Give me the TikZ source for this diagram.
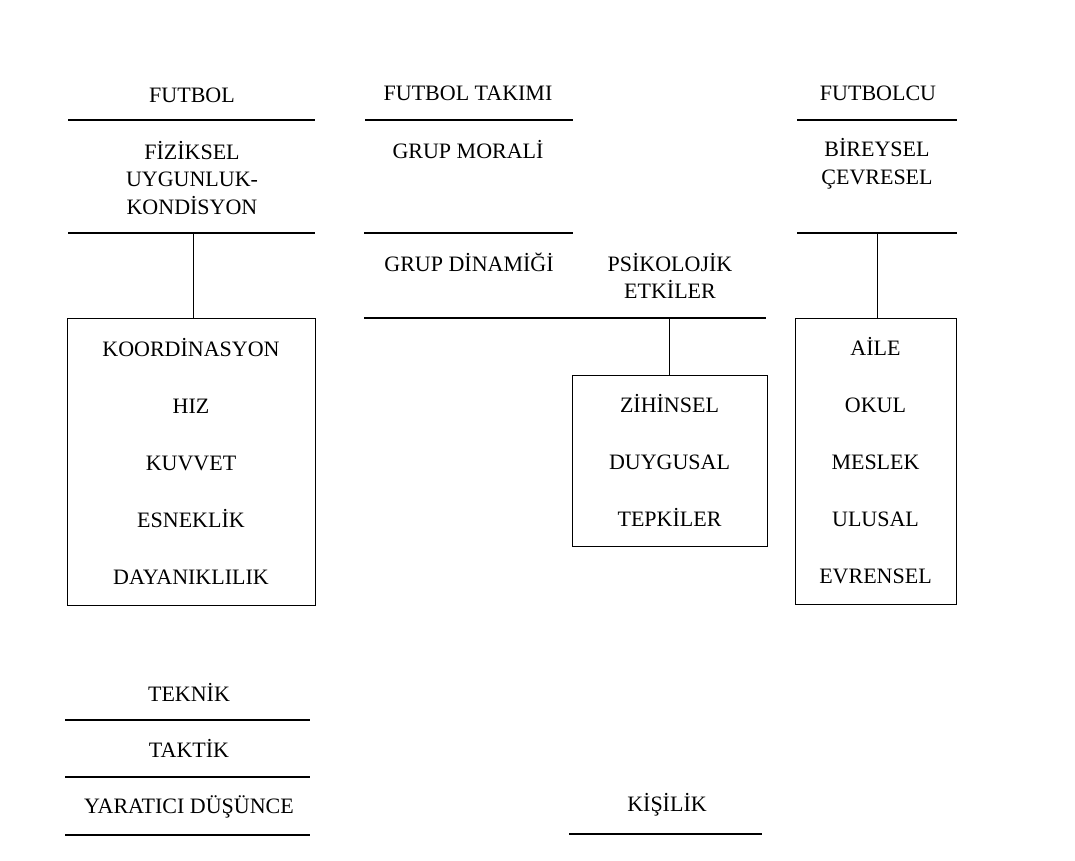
\documentclass[tikz,border=0pt]{standalone}
\usepackage{fontspec}
\setmainfont{Liberation Serif}
\usepackage{tikz}

\begin{document}
\begin{tikzpicture}[x=1pt,y=-1pt,
    lbl/.style={font=\fontsize{22}{27.5}\selectfont,align=center,inner sep=0pt},
    kutu/.style={draw,line width=0.9pt,font=\fontsize{22}{57}\selectfont,align=center,inner sep=0pt},
    cizgi/.style={line width=1.3pt},
    bag/.style={line width=0.9pt}]
\useasboundingbox (0,0) rectangle (1075,860);

% ust basliklar
\node[lbl] (futbol) at (192,95) {FUTBOL};
\node[lbl] (takim) at (468,93) {FUTBOL TAKIMI};
\node[lbl] (futbolcu) at (878,93) {FUTBOLCU};
\draw [cizgi] (68,120) -- (315,120);
\draw [cizgi] (365,120) -- (573,120);
\draw [cizgi] (797,120) -- (957,120);

\node[lbl] (fizik) at (192,178) {FİZİKSEL\\UYGUNLUK-\\KONDİSYON};
\node[lbl] (moral) at (468,150) {GRUP MORALİ};
\node[lbl] (bireysel) at (877,164) {BİREYSEL\\ÇEVRESEL};
\draw [cizgi] (68,233) -- (315,233);
\draw [cizgi] (364,233) -- (573,233);
\draw [cizgi] (797,233) -- (957,233);

\node[lbl] (dinamik) at (469,262) {GRUP DİNAMİĞİ};
\node[lbl] (psiko) at (670,276) {PSİKOLOJİK\\ETKİLER};
\draw [cizgi] (364,318) -- (766,318);

% kutular
\node[kutu,minimum width=248pt,minimum height=287pt] (kond) at (191,461.5)
    {KOORDİNASYON\\HIZ\\KUVVET\\ESNEKLİK\\DAYANIKLILIK};
\node[kutu,minimum width=195pt,minimum height=171pt] (zihin) at (669.5,460.5)
    {ZİHİNSEL\\DUYGUSAL\\TEPKİLER};
\node[kutu,minimum width=161pt,minimum height=286pt] (aile) at (875.5,461)
    {AİLE\\OKUL\\MESLEK\\ULUSAL\\EVRENSEL};

\coordinate (k1) at (193,233);
\coordinate (k2) at (669,318);
\coordinate (k3) at (877,233);
\draw [bag] (k1) -- (k1 |- kond.north);
\draw [bag] (k2) -- (k2 |- zihin.north);
\draw [bag] (k3) -- (k3 |- aile.north);

% alt kisim
\node[lbl] (teknik) at (189,692) {TEKNİK};
\draw [cizgi] (65,720) -- (310,720);
\node[lbl] (taktik) at (189,748) {TAKTİK};
\draw [cizgi] (65,777) -- (310,777);
\node[lbl] (yaratici) at (189,807) {YARATICI DÜŞÜNCE};
\draw [cizgi] (65,835) -- (310,835);

\node[lbl] (kisilik) at (667,805) {KİŞİLİK};
\draw [cizgi] (569,834) -- (762,834);
\end{tikzpicture}
\end{document}
